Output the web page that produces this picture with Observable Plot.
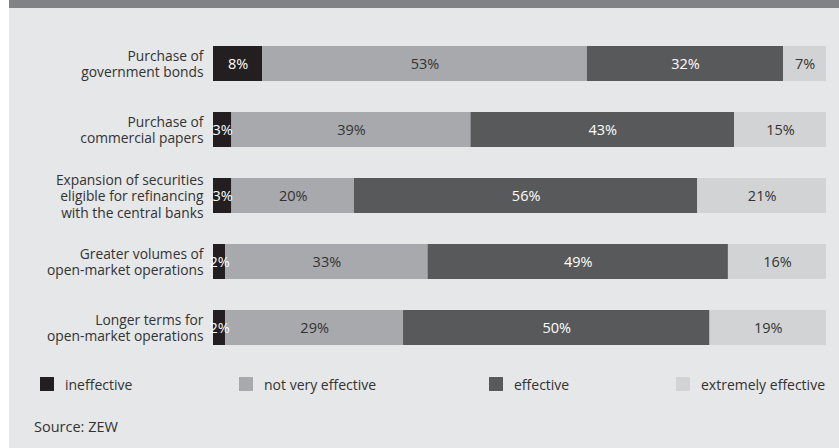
<!DOCTYPE html>
<html>
<head>
<meta charset="utf-8">
<script src="https://cdn.jsdelivr.net/npm/d3@7"></script>
<script src="https://cdn.jsdelivr.net/npm/@observablehq/plot@0.6"></script>
<style>
  html, body { margin: 0; padding: 0; background: #ffffff; }
  #page { position: relative; width: 839px; height: 448px; overflow: hidden; font-family: "Open Sans", sans-serif; }
  #bg { position: absolute; left: 9px; top: 0; right: 0; bottom: 0; background: #e6e7e8; }
  #band { position: absolute; left: 9px; top: 0; right: 0; height: 8px; background: #808285; }
  #chart { position: absolute; left: 0; top: 0; }
  .leg { position: absolute; top: 377px; height: 14px; display: flex; align-items: center; font-size: 14px; color: #333; white-space: nowrap; }
  .leg .sw { width: 14px; height: 14px; margin-right: 11px; flex: none; }
  #source { position: absolute; left: 34px; top: 417px; font-size: 14.5px; color: #333; }
</style>
</head>
<body>
<div id="page">
  <div id="bg"></div>
  <div id="band"></div>
  <div id="chart"></div>
  <div id="legend"></div>
  <div id="source">Source: ZEW</div>
</div>
<script>
const categories = [
  "Purchase of\ngovernment bonds",
  "Purchase of\ncommercial papers",
  "Expansion of securities\neligible for refinancing\nwith the central banks",
  "Greater volumes of\nopen-market operations",
  "Longer terms for\nopen-market operations"
];
const levels = ["ineffective", "not very effective", "effective", "extremely effective"];
const ineffective       = [8, 3, 3, 2, 2];
const notVeryEffective  = [53, 39, 20, 33, 29];
const effective         = [32, 43, 56, 49, 50];
const extremelyEffective = [7, 15, 21, 16, 19];
const levelColors = ["#231f20", "#a7a9ac", "#58595b", "#d1d3d4"];
const textColors  = ["#ffffff", "#333333", "#ffffff", "#333333"];
const legendX = [40, 239, 489, 676];

const series = [ineffective, notVeryEffective, effective, extremelyEffective];
const data = [];
categories.forEach((c, i) => {
  levels.forEach((l, j) => {
    data.push({category: c, level: l, li: j, value: series[j][i]});
  });
});

const chart = Plot.plot({
  width: 839,
  height: 370,
  marginLeft: 213,
  marginRight: 13,
  marginTop: 0,
  marginBottom: 0,
  style: {background: "transparent", fontFamily: "Open Sans, sans-serif"},
  x: {domain: [0, 100], axis: null},
  y: {domain: categories, range: [30.5, 360.5], padding: 0.4697, paddingOuter: 0.2348, label: null},
  color: {type: "identity"},
  marks: [
    Plot.barX(data, {x: "value", y: "category", fill: d => levelColors[d.li], order: null}),
    Plot.text(data, Plot.stackX({x: "value", y: "category", text: d => d.value + "%", fill: d => textColors[d.li], fontSize: 14.5, order: null})),
    Plot.axisY({tickSize: 0, tickPadding: 10, fontSize: 13.8, lineHeight: 1.19, fill: "#333", label: null})
  ]
});
document.getElementById("chart").appendChild(chart);

const legend = document.getElementById("legend");
levels.forEach((l, j) => {
  const item = document.createElement("div");
  item.className = "leg";
  item.style.left = legendX[j] + "px";
  const sw = document.createElement("div");
  sw.className = "sw";
  sw.style.background = levelColors[j];
  const tx = document.createElement("span");
  tx.textContent = l;
  item.appendChild(sw);
  item.appendChild(tx);
  legend.appendChild(item);
});
</script>
</body>
</html>
